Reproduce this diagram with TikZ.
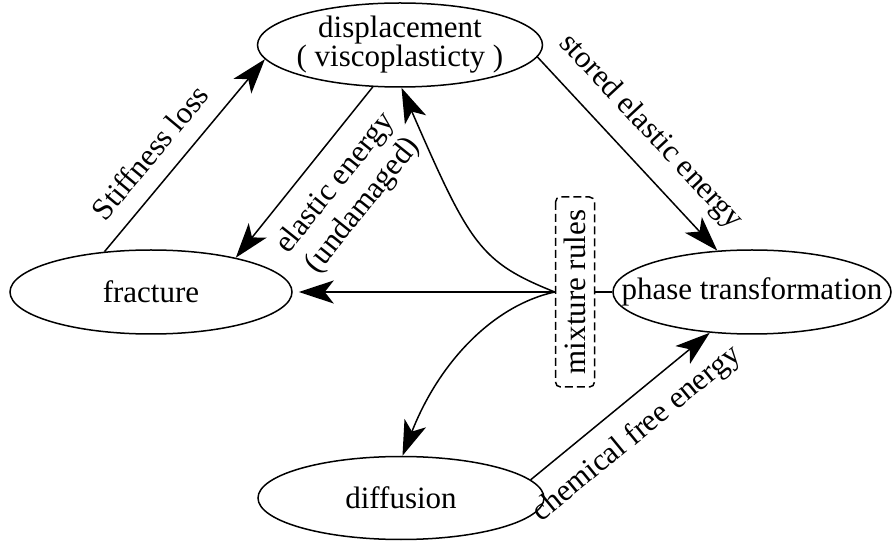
\documentclass[tikz,border=0pt]{standalone}
\usepackage{fontspec}
\setmainfont{Liberation Serif}
\usetikzlibrary{shapes.geometric,arrows.meta}
\begin{document}
\begin{tikzpicture}[x=1pt,y=1pt,
  every node/.style={font=\fontsize{31}{29}\selectfont},
  ell/.style={draw, ellipse, line width=1.5pt, inner sep=0pt},
  arr/.style={line width=1.5pt, -{Stealth[length=35pt,width=23pt,inset=9pt]}},
  plainline/.style={line width=1.5pt},
  lbl/.style={sloped, inner sep=17pt, align=center},
  mixbox/.style={draw, line width=1.5pt, dash pattern=on 8pt off 4pt, rounded corners=5pt,
    rotate=90, minimum width=190pt, minimum height=39pt, inner sep=0pt}]
\useasboundingbox (0,0) rectangle (892,544);
\node[ell, minimum width=285pt, minimum height=84pt,
  label={[align=center]center:displacement\\( viscoplasticty )}] (disp) at (400,499) {};
\node[ell, minimum width=282pt, minimum height=84pt,
  label={center:fracture}] (frac) at (151,252) {};
\node[ell, minimum width=278pt, minimum height=84pt,
  label={center:phase transformation}] (phase) at (752,252) {};
\node[ell, minimum width=286pt, minimum height=83pt,
  label={center:diffusion}] (diff) at (401,46) {};
\node[mixbox] (mix) at (575,252) {mixture rules};

\draw[arr] (mix.north) -- ([xshift=6pt]frac.east);
\draw[plainline] (mix.south) -- (phase.west);
\draw[arr] (mix.north) .. controls (480,282) and (470,299) .. (disp.272);
\draw[arr] (mix.north) .. controls (495,239) and (440,184) .. (diff.88);

\draw[arr] (frac.139) -- node[lbl, above, pos=0.42] {Stiffness loss} (disp.186);
\draw[arr] (disp.237) -- node[lbl, below, pos=0.45] {elastic energy\\[6pt](undamaged)} (frac.22);
\draw[arr] (disp.-5) -- node[lbl, above, pos=0.5] {stored elastic energy} (phase.130);
\draw[arr] (diff.8) -- node[lbl, below, pos=0.48] {chemical free energy} (phase.224);
\end{tikzpicture}
\end{document}
